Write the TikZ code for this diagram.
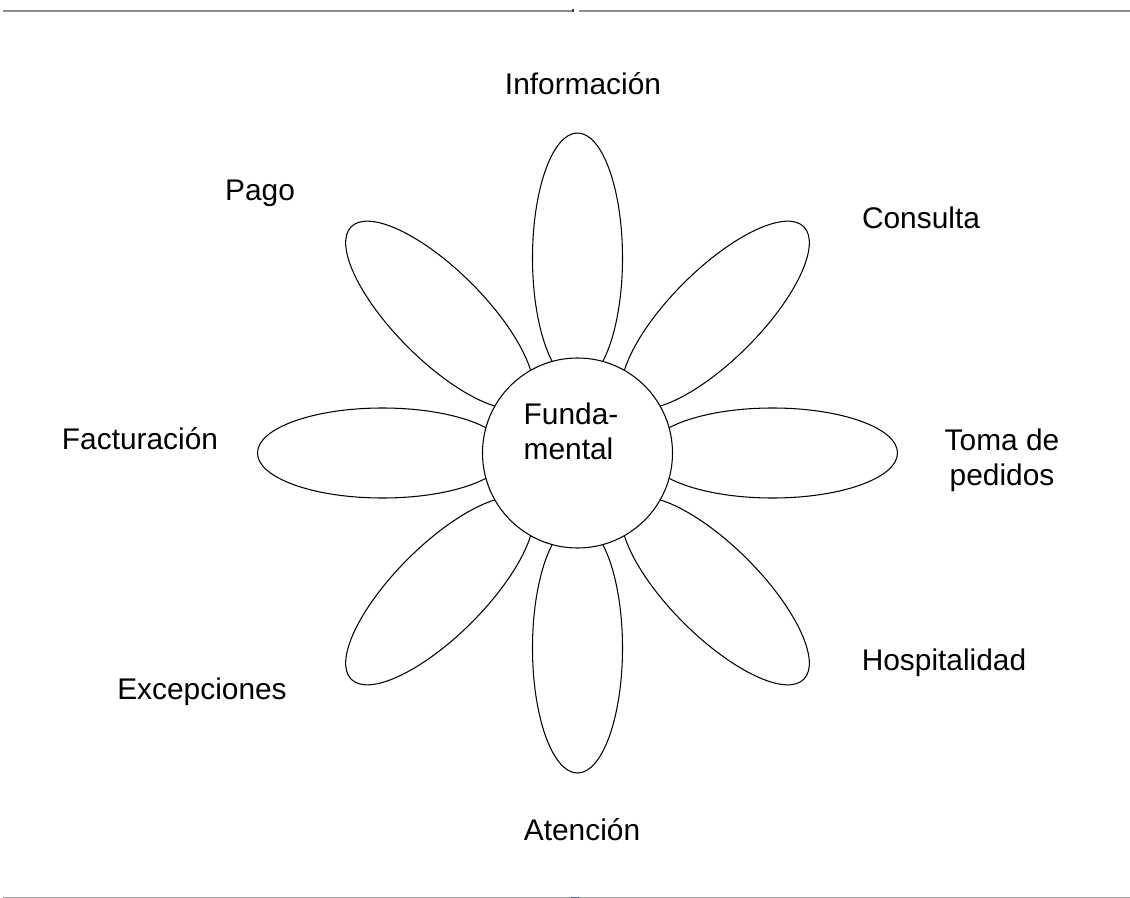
\documentclass[tikz,border=0pt]{standalone}
\usepackage{fontspec}
\setmainfont{Liberation Sans}
\usetikzlibrary{shapes.geometric,calc}
\definecolor{rulegray}{HTML}{8C8C8C}
\definecolor{marknavy}{HTML}{2A3C78}

\begin{document}
\begin{tikzpicture}[
    petal/.style={draw, ellipse, line width=0.6pt, minimum width=5cm, minimum height=1.8cm, inner sep=0pt},
    hub/.style={draw, circle, line width=0.6pt, fill=white, minimum size=3.8cm, inner sep=0pt},
    lbl/.style={font=\fontsize{17}{20}\selectfont, align=center, inner sep=0pt},
    rule/.style={rulegray, line width=1.7pt}
]
\useasboundingbox (0,0) rectangle (22.6,-17.96);

% horizontal rules
\draw[rule] (0.06,-0.22) -- (11.44,-0.22);
\draw[rule] (11.58,-0.22) -- (22.6,-0.22);
\fill[marknavy] (11.44,-0.19) rectangle (11.48,-0.25);
\draw[rule, rulegray!80] (0.06,-17.97) -- (22.6,-17.97);
\fill[marknavy!80] (11.42,-17.93) rectangle (11.58,-17.96);

% petals
\coordinate (o) at (11.55,-9.06);
\foreach \a [count=\i] in {90,45,0,-45,-90,-135,180,135}
  \node[petal, rotate=\a] (p\i) at ($(o)+(\a:3.9)$) {};

\node[hub] (ctr) at (o) {};
\node[lbl, align=left] (fund) at (11.42,-8.62) {Funda-\\mental};

% labels
\node[lbl] (info) at (11.66,-1.68) {Información};
\node[lbl] (cons) at (18.42,-4.36) {Consulta};
\node[lbl] (toma) at (20.04,-9.2) {Toma de\\pedidos};
\node[lbl] (hosp) at (18.88,-13.26) {Hospitalidad};
\node[lbl] (aten) at (11.64,-16.6) {Atención};
\node[lbl] (exce) at (4.04,-13.84) {Excepciones};
\node[lbl] (fact) at (2.8,-8.78) {Facturación};
\node[lbl] (pago) at (5.2,-3.86) {Pago};
\end{tikzpicture}
\end{document}
